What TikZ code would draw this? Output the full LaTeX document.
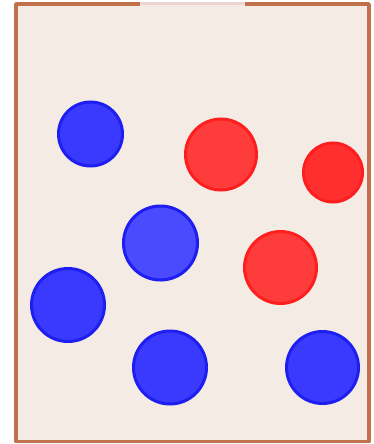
\documentclass[tikz,border=0pt]{standalone}
\usepackage{tikz}
\usetikzlibrary{calc}

\definecolor{wallbrown}{HTML}{C0704A}
\definecolor{boxfill}{HTML}{F4EBE5}
\definecolor{gappink}{HTML}{EDD5D3}
\definecolor{blueedge}{HTML}{1E1EF0}
\definecolor{bluefill}{HTML}{3A3AFF}
\definecolor{rededge}{HTML}{FF1E1E}
\definecolor{redfill}{HTML}{FF3C3C}

\tikzset{
  bluemol/.style={draw=blueedge, fill=bluefill, line width=3pt},
  redmol/.style={draw=rededge, fill=redfill, line width=3pt}
}

\begin{document}
\begin{tikzpicture}[x=1pt,y=-1pt]
\useasboundingbox (0,0) rectangle (374,444);
\coordinate[] (TL) at (16,4);
\coordinate[] (TR) at (369,4);
\coordinate[] (BL) at (16,441.5);
\coordinate[] (BR) at (369,441.5);
\coordinate[] (G1) at (140,4);
\coordinate[] (G2) at (245,4);

\fill [boxfill] (TL) rectangle (BR);
\draw [line width=3pt, gappink] (G1) -- (G2);
\draw [line width=3.5pt, wallbrown, line join=round] (G1) -- (TL) -- (BL) -- (BR) -- (TR) -- (G2);

\draw [bluemol] (90.5,134) circle (32);
\draw [redmol] (221,154.5) circle (35.5);
\draw [redmol, fill=redfill!55!rededge] (333,172.5) circle (29.5);
\draw [bluemol, fill=bluefill!92!white] (160.5,243) circle (37);
\draw [redmol] (280.5,267.5) circle (36);
\draw [bluemol] (68,305) circle (36.5);
\draw [bluemol] (170,367.5) circle (36.5);
\draw [bluemol] (322.5,367.5) circle (36);

\end{tikzpicture}
\end{document}
